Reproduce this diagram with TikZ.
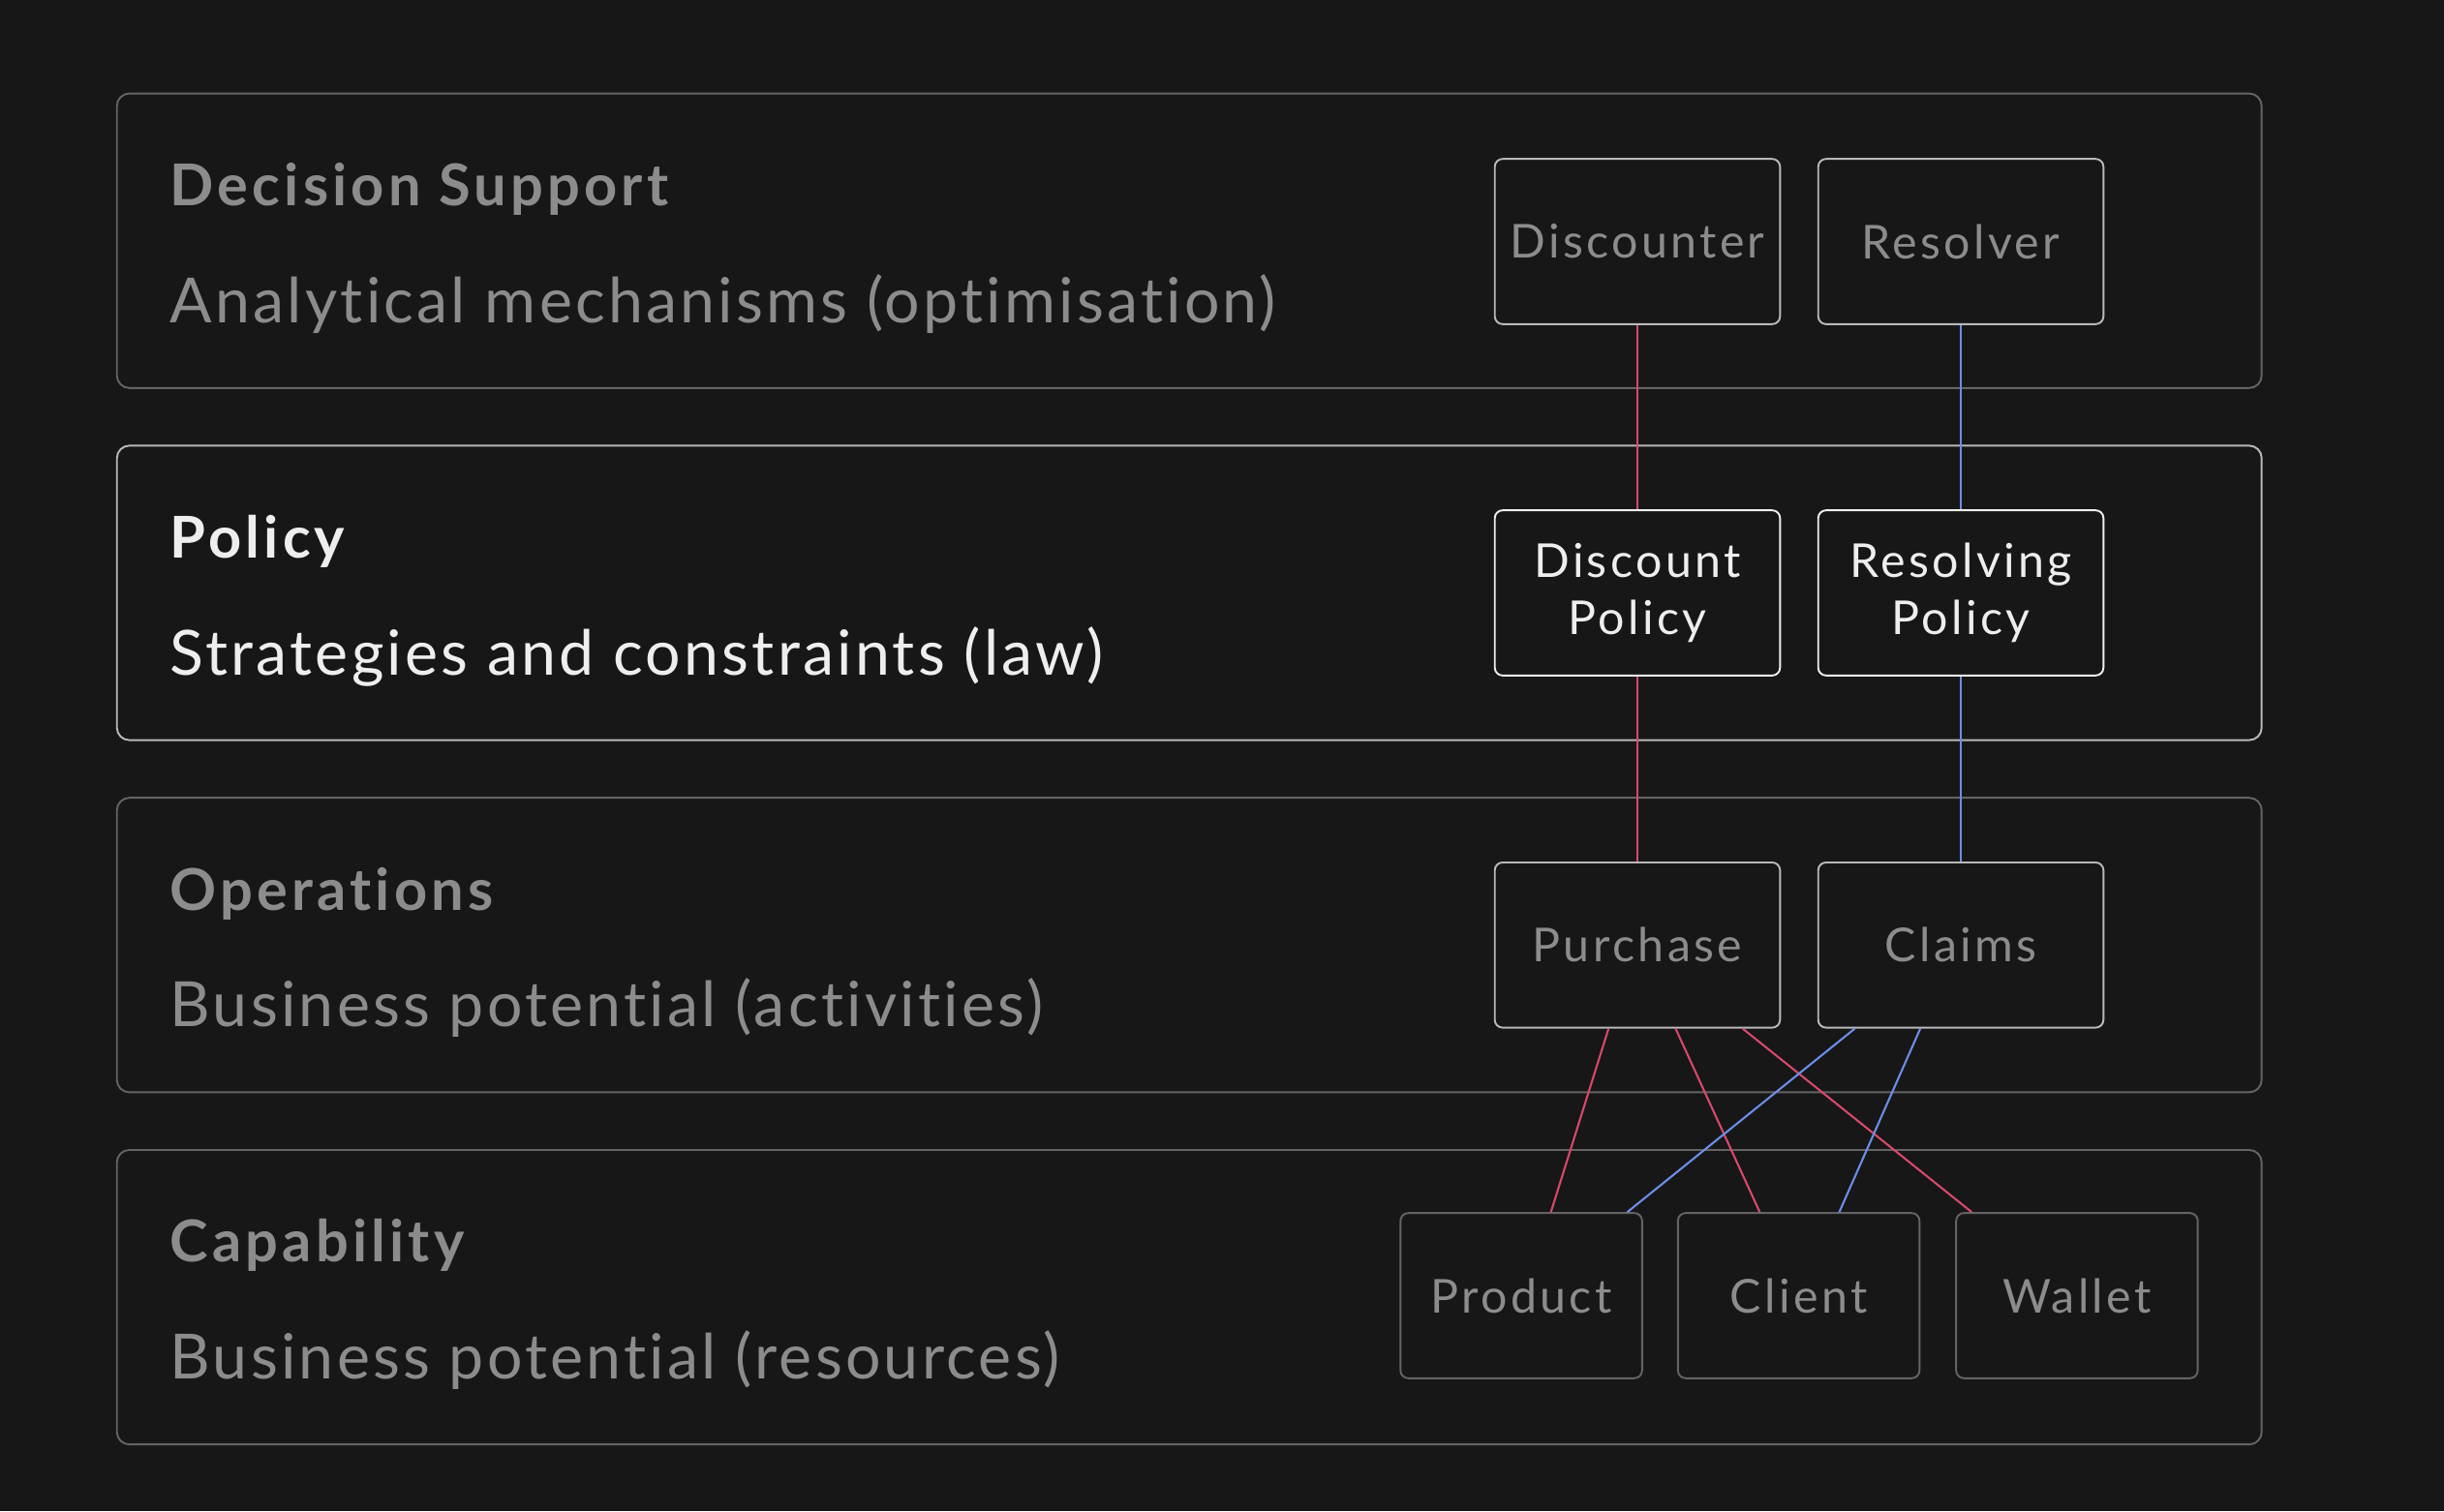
\documentclass[tikz,border=0pt]{standalone}
\usepackage{fontspec}
\setmainfont{Lato}
\newfontfamily\TitleFont[LetterSpace=7, Ligatures=NoCommon]{Lato}
\newfontfamily\SubFont[LetterSpace=5, Ligatures=NoCommon]{Lato}
\newfontfamily\BoxFont[LetterSpace=7, Ligatures=NoCommon]{Lato}
\usetikzlibrary{positioning, calc}
\definecolor{BgColor}{RGB}{23,23,23}
\definecolor{DimLine}{RGB}{100,100,100}
\definecolor{BrightLine}{RGB}{185,185,185}
\definecolor{DimText}{RGB}{140,140,140}
\definecolor{BrightText}{RGB}{238,238,238}
\definecolor{DiscountColor}{RGB}{214,73,108}
\definecolor{ResolveColor}{RGB}{107,142,232}

\begin{document}
\begin{tikzpicture}[x=1pt, y=-1pt,
    layer/.style={rectangle, draw=DimLine, line width=1.2pt, rounded corners=8pt, minimum width=1376pt, minimum height=189pt},
    activelayer/.style={layer, draw=BrightLine},
    title/.style={anchor=base west, inner sep=0pt, font=\TitleFont\fontsize{37}{44}\selectfont\bfseries, text=DimText},
    subtitle/.style={anchor=base west, inner sep=0pt, font=\SubFont\fontsize{40}{48}\selectfont, text=DimText},
    box/.style={rectangle, draw=BrightLine, line width=1.2pt, rounded corners=5pt, minimum width=183pt, minimum height=106pt, align=center, font=\BoxFont\fontsize{30}{37}\selectfont, text=DimText},
    policybox/.style={box, draw=BrightText, text=BrightText},
    resbox/.style={box, draw=DimLine, minimum width=155pt},
    redlink/.style={draw=DiscountColor, line width=1.3pt},
    bluelink/.style={draw=ResolveColor, line width=1.3pt}
]

% Background
\fill[BgColor] (0,0) rectangle (1568,970);
\useasboundingbox (0,0) rectangle (1568,970);

%%%%%%%%%%%%%%%%%%%%%%%%%%%%%%%%%%%%%%%%%%%%%%%%%%%%%%%%%%%%%%%%%%%
% Layers
%%%%%%%%%%%%%%%%%%%%%%%%%%%%%%%%%%%%%%%%%%%%%%%%%%%%%%%%%%%%%%%%%%%
\node[layer] (decision) at (763, 154.5) {};
\node[activelayer] (policy) at (763, 380.5) {};
\node[layer] (operations) at (763, 606.5) {};
\node[layer] (capability) at (763, 832.5) {};

% Layer texts
\node[title] (decision_title) at (109, 132) {Decision Support};
\node[subtitle] (decision_sub) at (109, 207) {Analytical mechanisms (optimisation)};

\node[title, text=BrightText] (policy_title) at (109, 358) {Policy};
\node[subtitle, text=BrightText] (policy_sub) at (109, 433) {Strategies and constraints (law)};

\node[title] (operations_title) at (109, 584) {Operations};
\node[subtitle] (operations_sub) at (109, 659) {Business potential (activities)};

\node[title] (capability_title) at (109, 810) {Capability};
\node[subtitle] (capability_sub) at (109, 885) {Business potential (resources)};

%%%%%%%%%%%%%%%%%%%%%%%%%%%%%%%%%%%%%%%%%%%%%%%%%%%%%%%%%%%%%%%%%%%
% Boxes
%%%%%%%%%%%%%%%%%%%%%%%%%%%%%%%%%%%%%%%%%%%%%%%%%%%%%%%%%%%%%%%%%%%
\node[box] (discounter) at (1050.5, 155) {Discounter};
\node[box] (resolver) at (1258, 155) {Resolver};

\node[policybox] (discount_pol) at (1050.5, 380.5) {Discount\\Policy};
\node[policybox] (resolving_pol) at (1258, 380.5) {Resolving\\Policy};

\node[box] (purchase) at (1050.5, 606.5) {Purchase};
\node[box] (claims) at (1258, 606.5) {Claims};

\node[resbox] (product) at (976, 831.5) {Product};
\node[resbox] (client) at (1154, 831.5) {Client};
\node[resbox] (wallet) at (1332.5, 831.5) {Wallet};

%%%%%%%%%%%%%%%%%%%%%%%%%%%%%%%%%%%%%%%%%%%%%%%%%%%%%%%%%%%%%%%%%%%
% Connections
%%%%%%%%%%%%%%%%%%%%%%%%%%%%%%%%%%%%%%%%%%%%%%%%%%%%%%%%%%%%%%%%%%%
\draw[redlink] (discounter) -- (discount_pol);
\draw[redlink] (discount_pol) -- (purchase);
\draw[bluelink] (resolver) -- (resolving_pol);
\draw[bluelink] (resolving_pol) -- (claims);

\draw[redlink] ($(purchase.south)+(-18.5,0)$) -- ($(product.north)+(19,0)$);
\draw[redlink] ($(purchase.south)+(24.5,0)$) -- ($(client.north)+(-25,0)$);
\draw[redlink] ($(purchase.south)+(67.5,0)$) -- ($(wallet.north)+(-67.5,0)$);
\draw[bluelink] ($(claims.south)+(-68,0)$) -- ($(product.north)+(68,0)$);
\draw[bluelink] ($(claims.south)+(-26,0)$) -- ($(client.north)+(26,0)$);

\end{tikzpicture}
\end{document}
